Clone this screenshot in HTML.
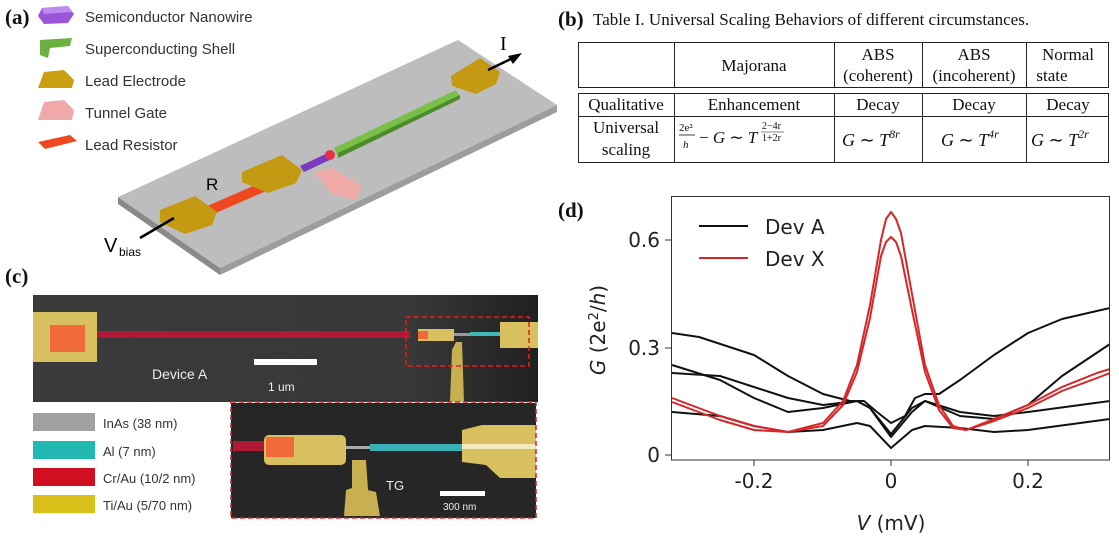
<!DOCTYPE html>
<html><head><meta charset="utf-8"><style>
html,body{margin:0;padding:0;background:#fff;width:1119px;height:540px;overflow:hidden}
svg{display:block}
.lbl{font-family:"Liberation Serif",serif;font-weight:bold;font-size:21px;fill:#111}
.ls{font-family:"Liberation Sans",sans-serif;font-size:15px;fill:#333}
.tb{font-family:"Liberation Serif",serif;font-size:17px;fill:#111}
.dj{font-family:"DejaVu Sans",sans-serif;fill:#222}
</style></head><body>
<svg width="1119" height="540" viewBox="0 0 1119 540" xmlns="http://www.w3.org/2000/svg">
<text class="lbl" x="5" y="24">(a)</text>
<text class="lbl" x="5" y="283">(c)</text>
<text class="lbl" x="558" y="26">(b)</text>
<text class="lbl" x="558" y="217">(d)</text>

<polygon points="42,8 68,6 74,14 68,23 44,24 38,16" fill="#9a55d8"/><polygon points="42,8 68,6 72,12 44,14" fill="#c08bf0"/>
<polygon points="40,40 72,38 70,46 50,48 48,58 40,55" fill="#6cb040"/>
<polygon points="44,72 64,70 74,80 72,88 38,88" fill="#c9a010"/>
<polygon points="44,102 64,100 74,110 72,120 38,120" fill="#f0a8a8"/>
<polygon points="38,142 70,135 77,141 45,149" fill="#f0481e"/>
<text class="ls" x="85" y="22">Semiconductor Nanowire</text>
<text class="ls" x="85" y="54">Superconducting Shell</text>
<text class="ls" x="85" y="86">Lead Electrode</text>
<text class="ls" x="85" y="118">Tunnel Gate</text>
<text class="ls" x="85" y="150">Lead Resistor</text>

<polygon points="118,197 220,268 220,275 118,204" fill="#8a8a8a"/>
<polygon points="220,268 557,105 557,112 220,275" fill="#9d9d9d"/>
<polygon points="118,197 458,40 557,105 220,268" fill="#bdbdbd"/>
<polygon points="198,210 274,177 280,185 204,218" fill="#f0481e"/>
<polygon points="300,166 330,152 334,158 304,172" fill="#7a3ac0"/>
<circle cx="330" cy="155" r="5" fill="#e8304a"/>
<polygon points="334,148 456,90 460,97 338,157" fill="#78c048"/>
<polygon points="338,153 460,95 460,99 338,158" fill="#4c8a2c"/>
<polygon points="160,210 195,196 217,212 212,225 185,234 160,222" fill="#c49a12"/>
<polygon points="242,172 282,155 302,170 296,183 268,193 242,182" fill="#c49a12"/>
<polygon points="451,76 480,58 500,72 496,84 476,94 452,86" fill="#c49a12"/>
<polygon points="314,172 332,168 362,186 356,200 332,194" fill="#f0aaa8"/>
<line x1="488" y1="70" x2="515" y2="57" stroke="#000" stroke-width="2.5"/>
<polygon points="522,53 508,56 513,64" fill="#000"/>
<text x="500" y="50" style="font-family:'Liberation Serif',serif;font-size:20px">I</text>
<line x1="174" y1="218" x2="140" y2="238" stroke="#000" stroke-width="2.5"/>
<text x="206" y="190" style="font-family:'Liberation Sans',sans-serif;font-size:17px">R</text>
<text x="104" y="252" style="font-family:'Liberation Sans',sans-serif;font-size:20px">V</text>
<text x="119" y="256" style="font-family:'Liberation Sans',sans-serif;font-size:12px">bias</text>

<defs><linearGradient id="sem" x1="0" x2="1"><stop offset="0" stop-color="#3a3a3a"/><stop offset="0.75" stop-color="#383838"/><stop offset="1" stop-color="#202020"/></linearGradient></defs>
<rect x="33" y="295" width="505" height="107" fill="url(#sem)"/>
<rect x="95" y="331" width="315" height="7" fill="#b01838"/>
<rect x="33" y="312" width="64" height="50" fill="#d8c060"/>
<rect x="50" y="325" width="35" height="27" fill="#f06a3a"/>
<rect x="418" y="329" width="36" height="12" fill="#d8c060"/>
<rect x="418" y="331" width="10" height="8" fill="#f06a3a"/>
<rect x="454" y="333" width="30" height="3" fill="#999"/>
<rect x="470" y="332" width="30" height="4" fill="#40b8b8"/>
<rect x="500" y="322" width="38" height="26" fill="#d8c060"/>
<polygon points="456,342 462,342 464,402 450,402 452,350" fill="#c8b050"/>
<rect x="406" y="317" width="123" height="49" fill="none" stroke="#e02020" stroke-width="1.5" stroke-dasharray="5,3"/>
<rect x="254" y="359" width="63" height="6" fill="#fff"/>
<text x="152" y="379" style="font-family:'Liberation Sans',sans-serif;font-size:14px;fill:#eee">Device A</text>
<text x="268" y="391" style="font-family:'Liberation Sans',sans-serif;font-size:12px;fill:#eee">1 um</text>
<rect x="33" y="413" width="62" height="18" fill="#a0a0a0"/>
<rect x="33" y="441" width="62" height="18" fill="#20b8b0"/>
<rect x="33" y="468" width="62" height="18" fill="#d01020"/>
<rect x="33" y="495" width="62" height="18" fill="#d8c018"/>
<text class="ls" x="103" y="428" style="font-size:13px">InAs (38 nm)</text>
<text class="ls" x="103" y="456" style="font-size:13px">Al (7 nm)</text>
<text class="ls" x="103" y="483" style="font-size:13px">Cr/Au (10/2 nm)</text>
<text class="ls" x="103" y="510" style="font-size:13px">Ti/Au (5/70 nm)</text>
<rect x="231" y="403" width="305" height="115" fill="#262626"/>
<rect x="233" y="441" width="35" height="10" fill="#b01838"/>
<rect x="264" y="435" width="82" height="30" rx="5" fill="#d8c060"/>
<rect x="266" y="437" width="28" height="20" fill="#f06a3a"/>
<rect x="346" y="446" width="25" height="3" fill="#aaa"/>
<rect x="370" y="444" width="92" height="7" fill="#38b0b8"/>
<polygon points="462,430 482,425 536,425 536,478 500,478 486,465 462,462" fill="#d8c060"/>
<rect x="462" y="444" width="74" height="5" fill="#f4ecc0"/>
<polygon points="352,460 366,460 368,490 376,492 380,516 344,516 346,490 352,488" fill="#c8b050"/>
<text x="386" y="490" style="font-family:'Liberation Sans',sans-serif;font-size:13px;fill:#eee">TG</text>
<rect x="440" y="491" width="45" height="5" fill="#fff"/>
<text x="443" y="510" style="font-family:'Liberation Sans',sans-serif;font-size:10px;fill:#eee">300 nm</text>
<rect x="231" y="402" width="305" height="116" fill="none" stroke="#e02020" stroke-width="1.5" stroke-dasharray="5,3"/>

<text class="tb" x="593" y="25">Table I.  Universal Scaling Behaviors of different circumstances.</text>
<g stroke="#222" stroke-width="1" fill="none">
<rect x="578.5" y="42.5" width="530" height="45"/>
<rect x="578.5" y="93.5" width="530" height="69"/>
<line x1="578.5" y1="116.5" x2="1108.5" y2="116.5"/>
<line x1="674.5" y1="42" x2="674.5" y2="88"/><line x1="834.5" y1="42" x2="834.5" y2="88"/><line x1="922.5" y1="42" x2="922.5" y2="88"/><line x1="1026.5" y1="42" x2="1026.5" y2="88"/>
<line x1="674.5" y1="93" x2="674.5" y2="163"/><line x1="834.5" y1="93" x2="834.5" y2="163"/><line x1="922.5" y1="93" x2="922.5" y2="163"/><line x1="1026.5" y1="93" x2="1026.5" y2="163"/>
</g>
<g text-anchor="middle">
<text x="754" y="71" class="tb">Majorana</text>
<text x="878" y="60" class="tb">ABS</text><text x="878" y="81" class="tb">(coherent)</text>
<text x="974" y="60" class="tb">ABS</text><text x="974" y="81" class="tb">(incoherent)</text>
<text x="1068" y="60" class="tb">Normal</text><text x="1052" y="81" class="tb">state</text>
<text x="626" y="110" class="tb">Qualitative</text>
<text x="754" y="110" class="tb">Enhancement</text>
<text x="878" y="110" class="tb">Decay</text>
<text x="974" y="110" class="tb">Decay</text>
<text x="1068" y="110" class="tb">Decay</text>
<text x="626" y="133" class="tb">Universal</text>
<text x="626" y="155" class="tb">scaling</text>
</g>
<g style="font-family:'Liberation Serif',serif;font-style:italic;fill:#111">
<text x="679" y="131" style="font-size:11px;font-style:normal">2e²</text>
<line x1="679" y1="135" x2="695" y2="135" stroke="#111" stroke-width="0.8"/>
<text x="683" y="148" style="font-size:11px">h</text>
<text x="699" y="143" style="font-size:17px"><tspan font-style="normal">− </tspan>G <tspan font-style="normal">∼ </tspan>T</text>
<text x="762" y="129" style="font-size:10px;font-style:normal">2−4r</text>
<line x1="761" y1="132" x2="784" y2="132" stroke="#111" stroke-width="0.6"/>
<text x="762" y="141" style="font-size:10px;font-style:normal">1+2r</text>
<text x="842" y="146" style="font-size:18px">G <tspan font-style="normal">∼ </tspan>T<tspan dy="-8" style="font-size:12px">8r</tspan></text>
<text x="941" y="146" style="font-size:18px">G <tspan font-style="normal">∼ </tspan>T<tspan dy="-8" style="font-size:12px">4r</tspan></text>
<text x="1031" y="146" style="font-size:18px">G <tspan font-style="normal">∼ </tspan>T<tspan dy="-8" style="font-size:12px">2r</tspan></text>
</g>

<defs><clipPath id="pc"><rect x="671" y="196" width="439" height="264"/></clipPath></defs>
<g clip-path="url(#pc)" fill="none" stroke-width="2" stroke-linejoin="round">
<polyline stroke="#111" points="672,333 699,337 754,355 788,376 823,394 850,401 864,401 877,412 891,423 905,416 915,398 925,394 939,394 960,380 994,355 1028,333 1062,319 1110,308"/>
<polyline stroke="#111" points="672,365 720,380 754,398 788,412 823,408 857,401 870,408 891,437 912,412 925,401 960,416 994,419 1028,405 1062,376 1110,344"/>
<polyline stroke="#111" points="672,373 720,376 754,387 788,398 823,405 857,401 870,408 891,434 912,408 925,401 960,412 994,416 1028,412 1110,401"/>
<polyline stroke="#111" points="672,412 720,416 754,426 788,432 823,430 857,423 870,426 891,448 912,430 925,426 960,428 994,432 1028,430 1110,419"/>
<polyline stroke="#d62728" points="672,398 720,416 754,426 788,432 823,423 843,401 857,365 870,305 881,240 886,219 891,212 896,219 901,233 912,294 925,365 939,405 953,426 966,430 994,419 1028,405 1062,387 1097,373 1110,369"/>
<polyline stroke="#d62728" points="672,402 720,420 754,430 788,432 823,426 843,405 857,372 870,318 881,256 886,242 891,237 896,242 901,256 912,310 925,372 939,410 953,428 966,430 994,421 1028,408 1062,391 1097,378 1110,373"/>
</g>
<rect x="671.5" y="196.5" width="438" height="263.5" fill="none" stroke="#333" stroke-width="1"/>
<g stroke="#333" stroke-width="1">
<line x1="665" y1="455" x2="671" y2="455"/><line x1="665" y1="348" x2="671" y2="348"/><line x1="665" y1="240" x2="671" y2="240"/>
<line x1="754" y1="460" x2="754" y2="466"/><line x1="891" y1="460" x2="891" y2="466"/><line x1="1028" y1="460" x2="1028" y2="466"/>
</g>
<g class="dj" style="font-size:20px" text-anchor="end">
<text x="660" y="462">0</text><text x="660" y="355">0.3</text><text x="660" y="247">0.6</text>
</g>
<g class="dj" style="font-size:20px" text-anchor="middle">
<text x="754" y="488">-0.2</text><text x="891" y="488">0</text><text x="1028" y="488">0.2</text>
<text x="891" y="530"><tspan font-style="italic">V</tspan> (mV)</text>
</g>
<text class="dj" transform="translate(605,330) rotate(-90)" text-anchor="middle" style="font-size:20px"><tspan font-style="italic">G</tspan> (2e<tspan dy="-7" style="font-size:13px">2</tspan><tspan dy="7">/</tspan><tspan font-style="italic">h</tspan>)</text>
<line x1="699" y1="226" x2="748" y2="226" stroke="#111" stroke-width="2"/>
<line x1="699" y1="258" x2="748" y2="258" stroke="#d62728" stroke-width="2"/>
<text class="dj" x="765" y="234" style="font-size:20px">Dev A</text>
<text class="dj" x="765" y="266" style="font-size:20px">Dev X</text>
</svg>
</body></html>
